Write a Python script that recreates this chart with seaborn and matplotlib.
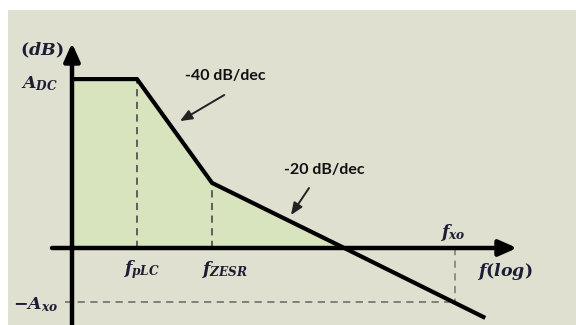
import matplotlib
matplotlib.use("Agg")
import matplotlib.pyplot as plt
import seaborn as sns
import pandas as pd
from matplotlib.patches import Rectangle

# Asymptotic Bode magnitude of an LC output filter with ESR zero
log_f = [0.0, 0.867, 1.867, 3.63, 5.51]      # log10(f), decades from the origin
mag_db = [56.3, 56.3, 21.7, 0.0, -23.3]      # magnitude in dB
f_plc = 0.867
f_zesr = 1.867
f_xo = 5.107
a_dc = 56.3
a_zesr = 21.7
a_xo = 18.0

slope_labels = ["-40 dB/dec", "-20 dB/dec"]

sns.set_theme(style="white")
plt.rcParams["mathtext.fontset"] = "custom"
plt.rcParams["mathtext.it"] = "DejaVu Serif:italic:bold"
plt.rcParams["mathtext.rm"] = "DejaVu Serif:bold"
plt.rcParams["mathtext.bf"] = "DejaVu Serif:bold"

fig = plt.figure(figsize=(5.76, 3.25), dpi=100, facecolor="white")
fig.patches.append(Rectangle((8 / 576, 0), 1 - 8 / 576, 1 - 10 / 325,
                             transform=fig.transFigure, facecolor="#E0E0D1",
                             edgecolor="none", zorder=-10))
ax = fig.add_axes([0, 0, 1, 1])
ax.set_facecolor("none")
ax.patch.set_alpha(0)
ax.set_xlim(-72 / 75, (576 - 72) / 75)
ax.set_ylim(-(325 - 248) / 3, 248 / 3)
ax.axis("off")

df = pd.DataFrame({"log_f": log_f, "mag": mag_db})

# Shaded region under the curve above 0 dB
pos = df[df["mag"] >= 0]
ax.fill_between(pos["log_f"], 0, pos["mag"], color="#D7E4BD", lw=0, zorder=1)

# Guide lines
dash_kw = dict(color="#555555", lw=1.3, ls=(0, (4, 3)), zorder=2)
ax.plot([f_plc, f_plc], [0, a_dc], **dash_kw)
ax.plot([f_zesr, f_zesr], [0, a_zesr], **dash_kw)
ax.plot([-0.1, f_xo], [-a_xo, -a_xo], color="#777777", lw=1.3, ls=(0, (4, 3)), zorder=2)
ax.plot([f_xo, f_xo], [0, -a_xo], color="#888888", lw=1.3, ls=(0, (4, 3)), zorder=2)

# Axes with arrowheads
ax.annotate("", xy=(0, (248 - 43) / 3), xytext=(0, -(325 - 248) / 3),
            arrowprops=dict(arrowstyle="-|>,head_length=0.9,head_width=0.4",
                            color="black", lw=3.2, shrinkA=0, shrinkB=0), zorder=4)
ax.annotate("", xy=((517 - 72) / 75, 0), xytext=(-20 / 75, 0),
            arrowprops=dict(arrowstyle="-|>,head_length=0.9,head_width=0.4",
                            color="black", lw=3.2, shrinkA=0, shrinkB=0), zorder=4)

# Magnitude curve
sns.lineplot(data=df, x="log_f", y="mag", color="black", lw=3.0, ax=ax,
             zorder=5, sort=False)
ax.lines[-1].set_solid_joinstyle("miter")
ax.lines[-1].set_solid_capstyle("butt")

# Slope annotations
txt_kw = dict(fontsize=11.5, fontweight="bold", color="#111111",
              family="Lato", ha="center", va="center")
ax.text(2.04, 57.3, slope_labels[0], **txt_kw)
ax.text(3.37, 26.0, slope_labels[1], **txt_kw)
arr_kw = dict(arrowstyle="-|>,head_length=0.6,head_width=0.25", color="#222222",
              lw=1.4, shrinkA=0, shrinkB=0)
ax.annotate("", xy=(1.44, 42.3), xytext=(2.03, 51.0), arrowprops=arr_kw)
ax.annotate("", xy=(2.92, 11.0), xytext=(3.16, 20.0), arrowprops=arr_kw)

# Axis labels and markers
lab_kw = dict(fontsize=12.5, color="#1c1c34", ha="center", va="center")
ax.text(-0.40, 66.0, r"$(dB)$", **lab_kw)
ax.text(-0.43, 54.7, r"$A_{DC}$", **lab_kw)
ax.text(-0.49, -19.0, r"$-A_{xo}$", **lab_kw)
ax.text(0.93, -7.3, r"$f_{pLC}$", **lab_kw)
ax.text(2.03, -7.3, r"$f_{ZESR}$", **lab_kw)
ax.text(5.07, 5.3, r"$f_{xo}$", **lab_kw)
ax.text(5.77, -8.0, r"$f(log)$", **lab_kw)

fig.savefig("out.png", dpi=100, facecolor="white")
